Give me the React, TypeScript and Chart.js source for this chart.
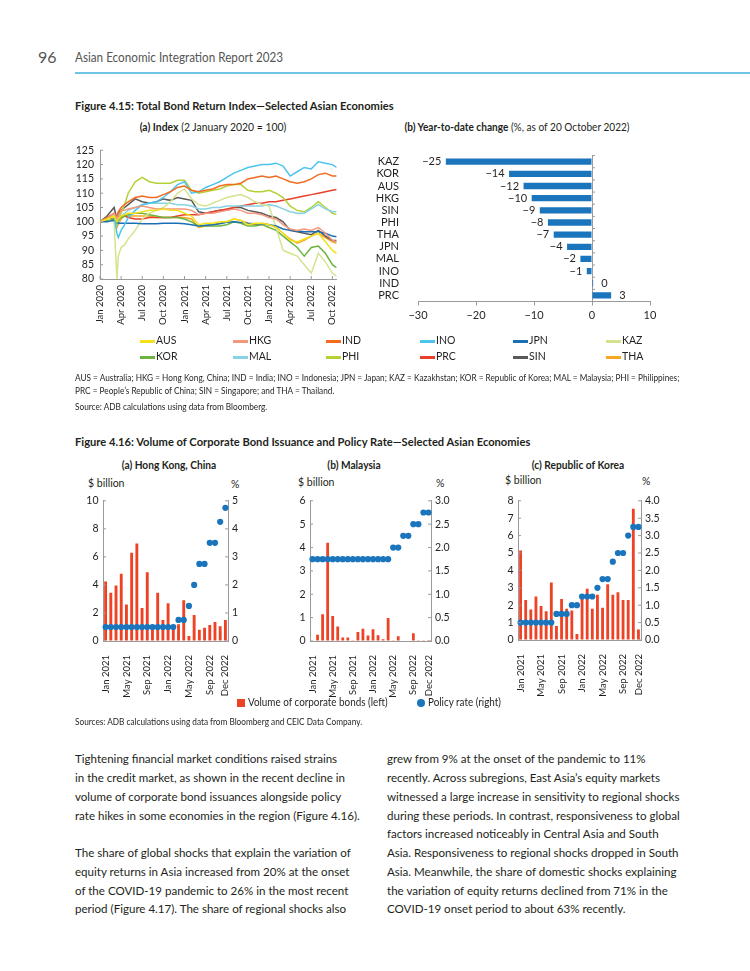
import React, { useEffect, useRef } from 'react';
import { Chart, registerables } from 'chart.js';
Chart.register(...registerables);

const FONT = 'Lato, "Noto Sans", sans-serif';
Chart.defaults.font.family = FONT;
Chart.defaults.color = '#231f20';

// ---------- Figure 4.15 (a) Index ----------
const IDX_X = [0, 1, 2, 2.4, 2.6, 3, 3.5, 4, 5, 6, 7, 8, 9, 10, 11, 12, 13, 14, 15, 16, 17, 18, 19, 20, 21, 22, 23, 24, 25, 26, 27, 28, 29, 30, 31, 32, 33, 33.6];
const IDX_TICKS = [0, 3, 6, 9, 12, 15, 18, 21, 24, 27, 30, 33];
const IDX_TICK_LABELS = ['Jan 2020', 'Apr 2020', 'Jul 2020', 'Oct 2020', 'Jan 2021', 'Apr 2021', 'Jul 2021', 'Oct 2021', 'Jan 2022', 'Apr 2022', 'Jul 2022', 'Oct 2022'];

const AUS = [100, 101, 102, 100, 101, 102, 102.5, 103, 103, 103.5, 104, 104, 104.5, 104, 104, 103, 102, 99, 99.5, 99.5, 100, 100, 101, 100.5, 99, 99.5, 99.5, 99, 98, 96, 93.5, 93, 94, 95, 96, 93, 90, 89];
const HKG = [100, 101, 103, 101, 102, 104, 104, 104.5, 105, 105.5, 105, 104.5, 104.5, 104.5, 104.5, 104.5, 104, 102.5, 103, 103, 103.5, 104, 104.5, 104, 103, 103, 102.5, 101.5, 101, 99, 97.5, 97, 97.5, 97, 98, 96, 93.5, 93];
const IND = [100, 101.5, 103, 101, 103.5, 105, 106, 107, 108.5, 109, 108.5, 108.5, 109.5, 110.5, 112, 112.5, 111, 110.5, 111, 111.5, 112.5, 113, 113, 113.5, 115, 115.5, 116, 115.5, 116, 115, 114, 113.5, 114, 115, 116.5, 117, 116, 116];
const INO = [100, 101.5, 102, 96, 94.5, 97, 99, 101.5, 104, 106, 106.5, 107, 108.5, 110.5, 113, 114, 110, 110.5, 112, 113, 114, 115.5, 117, 118, 119, 119.5, 120, 120, 120.5, 119.5, 116, 117.5, 119, 118.5, 121, 120.5, 120, 119];
const JPN = [100, 100, 100.5, 100, 99.5, 99.5, 99.5, 99.5, 99.5, 99.3, 99.3, 99.3, 99.5, 99.5, 99.5, 99.3, 99, 98.5, 98.8, 99, 99.3, 99.8, 100, 99.8, 99.5, 99.3, 99.3, 99, 98.5, 97.5, 97, 96.8, 96.5, 96.5, 96.5, 96, 95, 94.8];
const KAZ = [100, 101, 100, 80, 88, 91, 92, 94, 97, 101, 103, 104, 105, 107, 110, 111.5, 108, 106, 105.5, 106.5, 107.5, 108.5, 109, 109.5, 108.5, 107, 106, 105.5, 98, 90, 89, 88, 85, 82, 89, 86, 82, 81];
const KOR = [100, 100.5, 101, 99.5, 100.5, 101.5, 102, 102.5, 103, 103, 102.5, 102, 101.5, 101.5, 101.5, 101, 100, 98.5, 98.5, 98.5, 98.5, 99, 100, 99.5, 98.5, 98.5, 99, 98, 97, 95, 93, 91, 88, 91, 91.5, 89, 85, 84];
const MAL = [100, 101, 102, 99, 100, 102, 103, 104, 105, 106, 106.5, 106.5, 106.5, 106.5, 106, 106, 105.5, 104.5, 104.5, 105, 105, 105.5, 105.5, 105.5, 105.5, 105.5, 105.5, 106, 105.5, 104.5, 103.5, 103, 103, 104.5, 106, 104.5, 103.5, 103.5];
const PHI = [100, 101, 102, 99, 101, 103, 106, 110, 114, 115.5, 114, 113.5, 113.5, 113.5, 114.5, 114.5, 111, 110, 110.5, 111, 111.5, 112.5, 113, 113, 111, 110.5, 110.5, 111, 110, 108.5, 105.5, 104, 103.5, 105, 107, 105, 103, 102.5];
const PRC = [100, 101, 101.5, 101, 101.5, 102, 102, 101.5, 101, 101, 101.5, 101.5, 101.5, 101.5, 102, 102.5, 102.5, 102.5, 103, 103.5, 104, 104.5, 105, 105.5, 106, 106.5, 106.5, 107, 107, 107.5, 108, 108.5, 109, 109.5, 110, 110.5, 111, 111.3];
const SIN = [100, 102, 105, 101, 103, 104, 105, 106, 108, 107, 106.5, 107, 108, 107.5, 108.5, 108, 107.5, 103.5, 103, 103.5, 104, 104, 105, 105, 104, 103.5, 103, 102, 101.5, 100, 97, 96.5, 96, 95.5, 97, 95, 93.5, 93.5];
const THA = [100, 100.5, 101, 98, 99, 101, 102, 102, 102, 102, 102, 101.5, 101.5, 101.5, 101.5, 101.5, 101, 98, 98.5, 99, 99.5, 100, 101, 100.5, 99.5, 99, 99.5, 99, 98, 96, 94, 92.5, 93.5, 95, 96, 94.5, 93, 92.5];

const SERIES_NAMES = ['AUS', 'HKG', 'IND', 'INO', 'JPN', 'KAZ', 'KOR', 'MAL', 'PHI', 'PRC', 'SIN', 'THA'];
const SERIES_VALUES = [AUS, HKG, IND, INO, JPN, KAZ, KOR, MAL, PHI, PRC, SIN, THA];
const SERIES_COLORS = ['#F2E21B', '#F4977B', '#F26B21', '#4DC4EE', '#1A6FB5', '#D3E48E', '#6CB33F', '#86D3E3', '#B3D235', '#E8402A', '#58595B', '#F7A823'];

// ---------- Figure 4.15 (b) Year-to-date change ----------
const YTD_CATS = ['KAZ', 'KOR', 'AUS', 'HKG', 'SIN', 'PHI', 'THA', 'JPN', 'MAL', 'INO', 'IND', 'PRC'];
const YTD_VALUES = [-25.2, -14.3, -11.8, -10.4, -9.0, -7.6, -6.6, -4.3, -2.0, -0.9, 0.2, 3.3];

// ---------- Figure 4.16 ----------
const MONTHS = ['Jan 2021', 'Feb 2021', 'Mar 2021', 'Apr 2021', 'May 2021', 'Jun 2021', 'Jul 2021', 'Aug 2021', 'Sep 2021', 'Oct 2021', 'Nov 2021', 'Dec 2021',
  'Jan 2022', 'Feb 2022', 'Mar 2022', 'Apr 2022', 'May 2022', 'Jun 2022', 'Jul 2022', 'Aug 2022', 'Sep 2022', 'Oct 2022', 'Nov 2022', 'Dec 2022'];
const MONTH_TICK_IDX = [0, 4, 8, 12, 16, 20, 23];

const HK_BONDS = [4.25, 3.45, 3.95, 4.8, 2.6, 6.3, 6.95, 2.35, 4.9, 0.9, 3.45, 1.5, 2.7, 0.8, 1.2, 2.9, 0.35, 1.85, 0.8, 0.95, 1.15, 1.35, 1.05, 1.5];
const HK_RATE = [0.5, 0.5, 0.5, 0.5, 0.5, 0.5, 0.5, 0.5, 0.5, 0.5, 0.5, 0.5, 0.5, 0.5, 0.75, 0.75, 1.25, 2.0, 2.75, 2.75, 3.5, 3.5, 4.25, 4.75];
const MY_BONDS = [0.02, 0.27, 1.15, 4.2, 1.07, 0.62, 0.15, 0.15, 0.03, 0.38, 0.52, 0.24, 0.5, 0.25, 0.07, 0.98, 0.01, 0.2, 0.02, 0.02, 0.33, 0.01, 0.03, 0.01];
const MY_RATE = [1.75, 1.75, 1.75, 1.75, 1.75, 1.75, 1.75, 1.75, 1.75, 1.75, 1.75, 1.75, 1.75, 1.75, 1.75, 1.75, 2.0, 2.0, 2.25, 2.25, 2.5, 2.5, 2.75, 2.75];
const KR_BONDS = [5.15, 2.3, 1.75, 2.5, 1.95, 1.65, 3.3, 0.8, 2.35, 1.8, 1.7, 0.35, 2.45, 2.95, 1.8, 2.6, 1.85, 3.2, 2.6, 2.75, 2.3, 2.3, 7.55, 0.6];
const KR_RATE = [0.5, 0.5, 0.5, 0.5, 0.5, 0.5, 0.5, 0.75, 0.75, 0.75, 1.0, 1.0, 1.25, 1.25, 1.25, 1.5, 1.75, 1.75, 2.25, 2.5, 2.5, 3.0, 3.25, 3.25];

const AXIS_GRAY = '#9a9a9a';
const BOND_RED = '#EF4123';
const RATE_BLUE = '#1B75BC';

// ---------- plugins ----------
const innerTicks = {
  id: 'innerTicks',
  afterDatasetsDraw(chart: any, _args: any, opts: any) {
    if (!opts || !opts.axes) return;
    const ctx = chart.ctx;
    ctx.save();
    ctx.strokeStyle = AXIS_GRAY;
    ctx.lineWidth = 1;
    opts.axes.forEach((id: string) => {
      const s = chart.scales[id];
      if (!s) return;
      s.ticks.forEach((_t: any, i: number) => {
        const p = s.getPixelForTick(i);
        ctx.beginPath();
        if (s.axis === 'y') {
          const left = s.position === 'left';
          const x0 = left ? s.right : s.left;
          ctx.moveTo(x0, p);
          ctx.lineTo(x0 + (left ? 3 : -3), p);
        } else {
          ctx.moveTo(p, s.top);
          ctx.lineTo(p, s.top - 3);
        }
        ctx.stroke();
      });
    });
    ctx.restore();
  },
};

const fmtSigned = (v: number) => {
  const r = Math.round(v);
  return r < 0 ? '\u2212' + Math.abs(r) : String(r);
};

const barLabels = {
  id: 'barLabels',
  afterDatasetsDraw(chart: any, _args: any, opts: any) {
    if (!opts || !opts.show) return;
    const ctx = chart.ctx;
    const meta = chart.getDatasetMeta(0);
    const vals = chart.data.datasets[0].data;
    const xs = chart.scales.x;
    const ys = chart.scales.y;
    const zero = xs.getPixelForValue(0);
    ctx.save();
    ctx.strokeStyle = AXIS_GRAY;
    ctx.lineWidth = 1;
    for (let i = 0; i <= vals.length; i++) {
      const y = ys.getPixelForValue(i - 0.5);
      ctx.beginPath();
      ctx.moveTo(zero, y);
      ctx.lineTo(zero + 3, y);
      ctx.stroke();
    }
    ctx.fillStyle = '#231f20';
    ctx.font = `11px ${FONT}`;
    ctx.textBaseline = 'middle';
    meta.data.forEach((bar: any, i: number) => {
      const v = vals[i];
      if (v < 0) {
        ctx.textAlign = 'right';
        ctx.fillText(fmtSigned(v), bar.x - 4.5, bar.y);
      } else {
        ctx.textAlign = 'left';
        ctx.fillText(fmtSigned(v), Math.max(bar.x, zero) + 8, bar.y);
      }
    });
    ctx.restore();
  },
};

// ---------- configs ----------
function indexConfig(): any {
  return {
    type: 'line',
    data: {
      datasets: SERIES_NAMES.map((name, k) => ({
        label: name,
        data: IDX_X.map((x, i) => ({ x, y: SERIES_VALUES[k][i] })),
        borderColor: SERIES_COLORS[k],
        backgroundColor: SERIES_COLORS[k],
        borderWidth: 1.5,
        pointRadius: 0,
        tension: 0,
      })),
    },
    options: {
      animation: false,
      responsive: false,
      layout: { padding: { top: 7.7, right: 10.7, left: 0, bottom: 0 } },
      plugins: { legend: { display: false }, tooltip: { enabled: false }, innerTicks: { axes: ['x', 'y'] } },
      scales: {
        x: {
          type: 'linear', min: 0, max: 33.6,
          afterBuildTicks: (s: any) => { s.ticks = IDX_TICKS.map((v) => ({ value: v })); },
          ticks: {
            autoSkip: false, minRotation: 90, maxRotation: 90, padding: 6, font: { size: 9.5 },
            callback: (v: number) => { const j = IDX_TICKS.indexOf(v); return j >= 0 ? IDX_TICK_LABELS[j] : ''; },
          },
          grid: { drawOnChartArea: false, drawTicks: false },
          border: { display: true, color: AXIS_GRAY },
          afterFit: (s: any) => { s.height = 59; },
        },
        y: {
          min: 80, max: 125,
          ticks: { stepSize: 5, autoSkip: false, padding: 6, font: { size: 10.5 } },
          grid: { drawOnChartArea: false, drawTicks: false },
          border: { display: true, color: AXIS_GRAY },
          afterFit: (s: any) => { s.width = 40; },
        },
      },
    },
  };
}

function ytdConfig(): any {
  return {
    type: 'bar',
    data: {
      labels: YTD_CATS,
      datasets: [{ data: YTD_VALUES, backgroundColor: RATE_BLUE, barPercentage: 0.52, categoryPercentage: 1 }],
    },
    options: {
      animation: false,
      responsive: false,
      indexAxis: 'y',
      layout: { padding: { top: 7.2, right: 20, left: 0, bottom: 0 } },
      plugins: { legend: { display: false }, tooltip: { enabled: false }, barLabels: { show: true } },
      scales: {
        x: {
          min: -30, max: 10,
          ticks: { stepSize: 10, padding: 3, font: { size: 11 }, callback: (v: number) => (v < 0 ? '\u2212' + Math.abs(v) : String(v)) },
          grid: {
            color: (c: any) => (c.tick && c.tick.value === 0 ? AXIS_GRAY : 'rgba(0,0,0,0)'),
            tickColor: AXIS_GRAY, tickLength: 4, drawTicks: true,
          },
          border: { display: true, color: AXIS_GRAY },
          afterFit: (s: any) => { s.height = 26.5; },
        },
        y: {
          ticks: { autoSkip: false, padding: 11, font: { size: 11 } },
          grid: { display: false },
          border: { display: false },
          afterFit: (s: any) => { s.width = 48; },
        },
      },
    },
  };
}

function bondConfig(bonds: number[], rates: number[], yMax: number, y1Max: number, y1Step: number, y1Dec: number, topPad: number, xh: number): any {
  return {
    type: 'bar',
    data: {
      labels: MONTHS,
      datasets: [
        { type: 'line', data: rates, yAxisID: 'y1', showLine: false, pointRadius: 3.1, pointBackgroundColor: RATE_BLUE, pointBorderWidth: 0, borderColor: RATE_BLUE, order: 1 },
        { type: 'bar', data: bonds, yAxisID: 'y', backgroundColor: BOND_RED, barPercentage: 0.55, categoryPercentage: 1, order: 2 },
      ],
    },
    options: {
      animation: false,
      responsive: false,
      layout: { padding: { top: topPad, right: 0, left: 0, bottom: 0 } },
      plugins: { legend: { display: false }, tooltip: { enabled: false }, innerTicks: { axes: ['y', 'y1'] } },
      scales: {
        x: {
          offset: true,
          grid: { display: false },
          border: { display: true, color: AXIS_GRAY },
          ticks: {
            autoSkip: false, minRotation: 90, maxRotation: 90, padding: 6, font: { size: 9.5 },
            callback: (_v: any, i: number) => (MONTH_TICK_IDX.includes(i) ? MONTHS[i] : ''),
          },
          afterFit: (s: any) => { s.height = xh; },
        },
        y: {
          position: 'left', min: 0, max: yMax,
          ticks: { stepSize: yMax / 5 >= 2 ? 2 : 1, autoSkip: false, padding: 4.5, font: { size: 10.5 } },
          grid: { drawOnChartArea: false, drawTicks: false },
          border: { display: true, color: AXIS_GRAY },
          afterFit: (s: any) => { s.width = 28; },
        },
        y1: {
          position: 'right', min: 0, max: y1Max,
          ticks: { stepSize: y1Step, autoSkip: false, padding: 4, font: { size: 10.5 }, callback: (v: number) => v.toFixed(y1Dec) },
          grid: { drawOnChartArea: false, drawTicks: false },
          border: { display: true, color: AXIS_GRAY },
          afterFit: (s: any) => { s.width = 22; },
        },
      },
    },
  };
}

// ---------- components ----------
function ChartBox({ left, top, width, height, make }: { left: number; top: number; width: number; height: number; make: () => any }) {
  const ref = useRef<HTMLCanvasElement>(null);
  useEffect(() => {
    if (!ref.current) return;
    const chart = new Chart(ref.current, { ...make(), plugins: [innerTicks, barLabels] });
    return () => chart.destroy();
  }, []);
  return (
    <div style={{ position: 'absolute', left, top, width, height }}>
      <canvas ref={ref} width={width} height={height} style={{ width, height, display: 'block' }} />
    </div>
  );
}

type TxtProps = { x: number; y: number; size?: number; weight?: number; color?: string; align?: 'left' | 'center'; sx?: number; children: React.ReactNode };
function Txt({ x, y, size = 12, weight = 400, color = '#231f20', align = 'left', sx = 1, children }: TxtProps) {
  const tr = (align === 'center' ? 'translateX(-50%) ' : '') + `scaleX(${sx})`;
  return (
    <div
      style={{
        position: 'absolute', left: x, top: y - size * 0.63, fontSize: size, lineHeight: `${size * 1.2}px`,
        fontWeight: weight, color, whiteSpace: 'nowrap', fontFamily: FONT,
        transform: tr, transformOrigin: align === 'center' ? 'center' : 'left',
      }}
    >
      {children}
    </div>
  );
}

const LEGEND_COLS = [140, 233, 326, 420, 513, 606];
const LEGEND_ROWS = [341, 357];

const BODY_LEFT = [
  'Tightening financial market conditions raised strains',
  'in the credit market, as shown in the recent decline in',
  'volume of corporate bond issuances alongside policy',
  'rate hikes in some economies in the region (Figure 4.16).',
  '',
  'The share of global shocks that explain the variation of',
  'equity returns in Asia increased from 20% at the onset',
  'of the COVID-19 pandemic to 26% in the most recent',
  'period (Figure 4.17). The share of regional shocks also',
];
const BODY_RIGHT = [
  'grew from 9% at the onset of the pandemic to 11%',
  'recently. Across subregions, East Asia\u2019s equity markets',
  'witnessed a large increase in sensitivity to regional shocks',
  'during these periods. In contrast, responsiveness to global',
  'factors increased noticeably in Central Asia and South',
  'Asia. Responsiveness to regional shocks dropped in South',
  'Asia. Meanwhile, the share of domestic shocks explaining',
  'the variation of equity returns declined from 71% in the',
  'COVID-19 onset period to about 63% recently.',
];

export default function App() {
  const bodySx = 0.94;
  const noteSx = 0.96;
  return (
    <div style={{ position: 'absolute', left: 0, top: 0, width: 750, height: 971, background: '#fff', overflow: 'hidden', fontFamily: FONT }}>
      {/* header */}
      <Txt x={38} y={57} size={16} color="#555">96</Txt>
      <Txt x={75} y={58} size={13} color="#555" sx={0.9}>Asian Economic Integration Report 2023</Txt>
      <div style={{ position: 'absolute', left: 75, top: 72, width: 675, height: 2, background: '#6CC5E3' }} />

      {/* Figure 4.15 */}
      <Txt x={75} y={107} size={12} weight={700} sx={0.93}>Figure 4.15: Total Bond Return Index—Selected Asian Economies</Txt>
      <Txt x={213} y={128} size={10.5} align="center" sx={0.99}><b>(a) Index</b> (2 January 2020 = 100)</Txt>
      <Txt x={517} y={128} size={10.5} align="center" sx={0.96}><b>(b) Year-to-date change</b> (%, as of 20 October 2022)</Txt>

      <ChartBox left={60} top={138} width={290} height={200} make={indexConfig} />
      <ChartBox left={370} top={138} width={300} height={190} make={ytdConfig} />

      {SERIES_NAMES.map((n, k) => {
        const cx = LEGEND_COLS[k % 6];
        const cy = LEGEND_ROWS[Math.floor(k / 6)];
        return (
          <React.Fragment key={n}>
            <div style={{ position: 'absolute', left: cx, top: cy - 1, width: 15, height: 2.5, background: SERIES_COLORS[k] }} />
            <Txt x={cx + 16} y={cy} size={10.5}>{n}</Txt>
          </React.Fragment>
        );
      })}

      <Txt x={75} y={378} size={8.6} sx={noteSx}>AUS = Australia; HKG = Hong Kong, China; IND = India; INO = Indonesia; JPN = Japan; KAZ = Kazakhstan; KOR = Republic of Korea; MAL = Malaysia; PHI = Philippines;</Txt>
      <Txt x={75} y={391} size={8.6} sx={noteSx}>PRC = People’s Republic of China; SIN = Singapore; and THA = Thailand.</Txt>
      <Txt x={75} y={407} size={8.6} sx={noteSx}>Source: ADB calculations using data from Bloomberg.</Txt>

      {/* Figure 4.16 */}
      <Txt x={75} y={443} size={12} weight={700} sx={0.93}>Figure 4.16: Volume of Corporate Bond Issuance and Policy Rate—Selected Asian Economies</Txt>
      <Txt x={169} y={466} size={10.5} weight={700} align="center" sx={0.97}>(a) Hong Kong, China</Txt>
      <Txt x={354} y={466} size={10.5} weight={700} align="center" sx={0.97}>(b) Malaysia</Txt>
      <Txt x={578} y={466} size={10.5} weight={700} align="center" sx={0.97}>(c) Republic of Korea</Txt>

      <Txt x={88} y={484} size={10.5}>$ billion</Txt>
      <Txt x={231} y={485} size={10.5}>%</Txt>
      <Txt x={298} y={483} size={10.5}>$ billion</Txt>
      <Txt x={436} y={484} size={10.5}>%</Txt>
      <Txt x={505} y={481} size={10.5}>$ billion</Txt>
      <Txt x={642} y={482} size={10.5}>%</Txt>

      <ChartBox left={75} top={490} width={175} height={216} make={() => bondConfig(HK_BONDS, HK_RATE, 10, 5, 1, 0, 9.3, 65)} />
      <ChartBox left={282} top={490} width={171} height={216} make={() => bondConfig(MY_BONDS, MY_RATE, 6, 3, 0.5, 1, 7.7, 65)} />
      <ChartBox left={490} top={490} width={173} height={216} make={() => bondConfig(KR_BONDS, KR_RATE, 8, 4, 0.5, 1, 5.7, 66)} />

      <div style={{ position: 'absolute', left: 237, top: 699, width: 8, height: 8, background: BOND_RED }} />
      <Txt x={248} y={703} size={10.5} sx={0.94}>Volume of corporate bonds (left)</Txt>
      <div style={{ position: 'absolute', left: 417, top: 699, width: 8, height: 8, borderRadius: 4, background: RATE_BLUE }} />
      <Txt x={428} y={703} size={10.5} sx={0.94}>Policy rate (right)</Txt>

      <Txt x={75} y={722} size={8.6} sx={noteSx}>Sources: ADB calculations using data from Bloomberg and CEIC Data Company.</Txt>

      {/* body text */}
      {BODY_LEFT.map((t, i) => t ? <Txt key={'l' + i} x={75} y={760 + i * 18.75} size={12.3} sx={bodySx}>{t}</Txt> : null)}
      {BODY_RIGHT.map((t, i) => <Txt key={'r' + i} x={387} y={760 + i * 18.75} size={12.3} sx={bodySx}>{t}</Txt>)}
    </div>
  );
}
